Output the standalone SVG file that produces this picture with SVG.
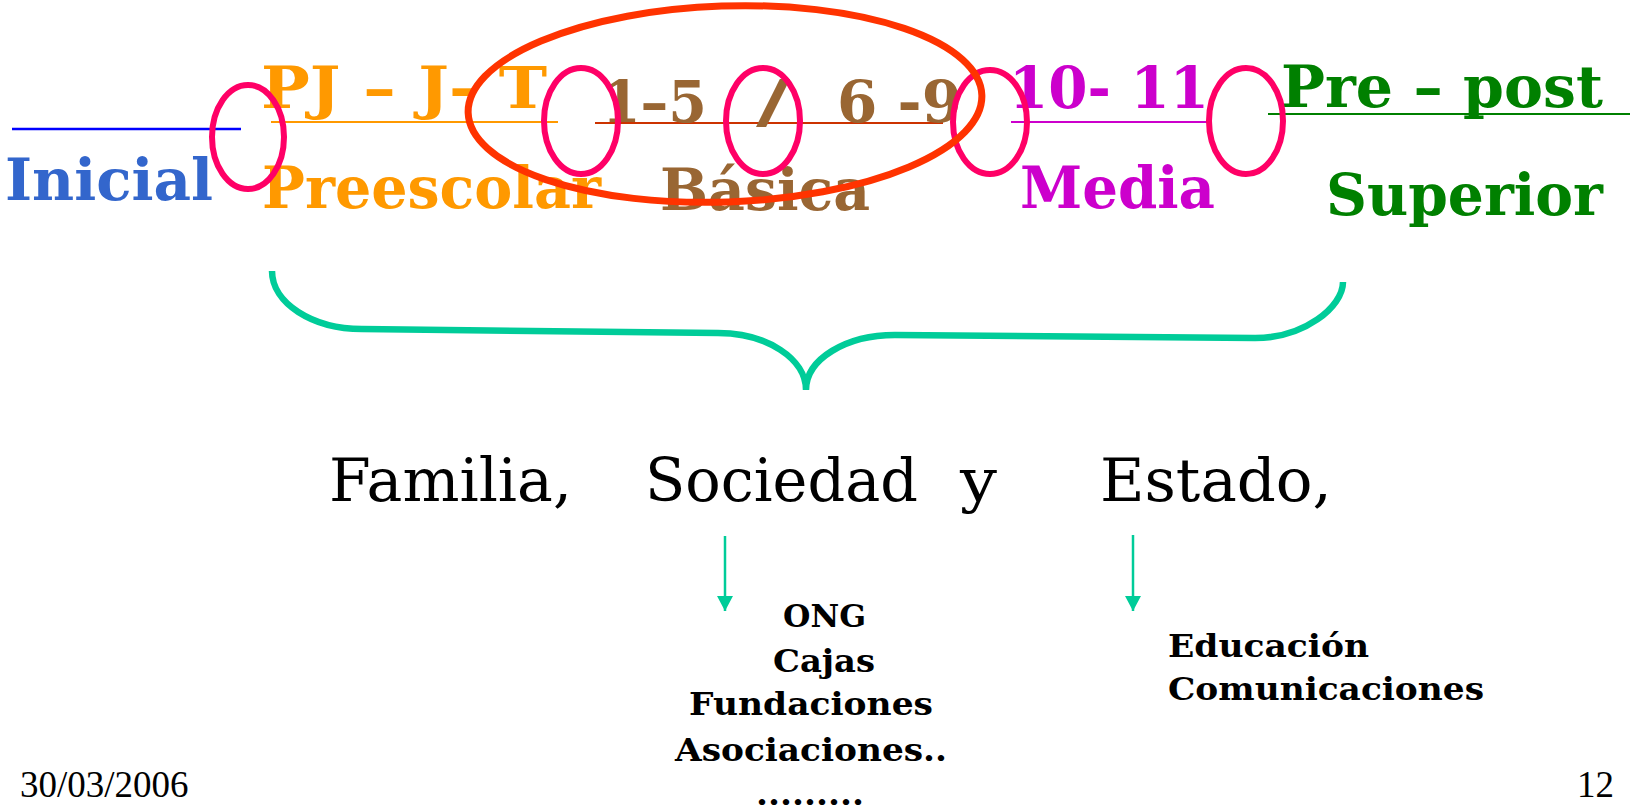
<svg xmlns="http://www.w3.org/2000/svg" width="1630" height="812" viewBox="0 0 1630 812">
<style>
.big{font-family:"DejaVu Serif","Liberation Serif",serif;font-weight:bold;font-size:58px}
.mid{font-family:"DejaVu Serif","Liberation Serif",serif;font-weight:normal;font-size:60px;fill:#000}
.sm{font-family:"DejaVu Serif","Liberation Serif",serif;font-weight:bold;font-size:32px;fill:#000}
.foot{font-family:"Liberation Serif","Times New Roman",serif;font-size:37px;fill:#000}
.ring{fill:none;stroke:#ff0066;stroke-width:6}
.conn{fill:none;stroke:#00cc99;stroke-width:2.5}
</style>
<defs>
<marker id="ah" markerUnits="userSpaceOnUse" markerWidth="18" markerHeight="16" refX="15" refY="8" orient="auto">
<path d="M0,0 L15,8 L0,16 Z" fill="#00cc99"/>
</marker>
</defs>
<rect width="1630" height="812" fill="#fff"/>
<g id="level-lines">
<line x1="12" y1="129" x2="241" y2="129" stroke="#0000ff" stroke-width="2.5"/>
<line x1="271" y1="122" x2="558" y2="122" stroke="#ff9900" stroke-width="2"/>
<line x1="595" y1="123" x2="943" y2="123" stroke="#cc3300" stroke-width="2"/>
<line x1="1011" y1="122" x2="1207" y2="122" stroke="#cc00cc" stroke-width="2"/>
<line x1="1268" y1="114" x2="1630" y2="114" stroke="#008000" stroke-width="2"/>
</g>
<g id="inicial"><text class="big" x="5" y="200" fill="#3366cc" textLength="208" lengthAdjust="spacingAndGlyphs">Inicial</text></g>
<g id="preescolar">
<text class="big" x="261" y="108" fill="#ff9900" textLength="286" lengthAdjust="spacingAndGlyphs">PJ – J- T</text>
<text class="big" x="262" y="208" fill="#ff9900" textLength="339" lengthAdjust="spacingAndGlyphs">Preescolar</text>
</g>
<g id="basica">
<text class="big" x="602" y="122" fill="#996633" textLength="105" lengthAdjust="spacingAndGlyphs">1–5</text>
<text class="big" x="756" y="122" fill="#996633" textLength="34" lengthAdjust="spacingAndGlyphs">/</text>
<text class="big" x="837" y="122" fill="#996633" textLength="125" lengthAdjust="spacingAndGlyphs">6 -9</text>
<text class="big" x="660" y="210" fill="#996633" textLength="210" lengthAdjust="spacingAndGlyphs">Básica</text>
</g>
<g id="media">
<text class="big" x="1009" y="108" fill="#cc00cc" textLength="200" lengthAdjust="spacingAndGlyphs">10- 11</text>
<text class="big" x="1020" y="208" fill="#cc00cc" textLength="195" lengthAdjust="spacingAndGlyphs">Media</text>
</g>
<g id="superior">
<text class="big" x="1281" y="107" fill="#008000" textLength="322" lengthAdjust="spacingAndGlyphs">Pre – post</text>
<text class="big" x="1326" y="215" fill="#008000" textLength="277" lengthAdjust="spacingAndGlyphs">Superior</text>
</g>
<g id="transition-rings">
<ellipse class="ring" cx="248" cy="137" rx="36" ry="52"/>
<ellipse class="ring" cx="581" cy="121" rx="37" ry="53"/>
<ellipse class="ring" cx="763" cy="121" rx="37" ry="53"/>
<ellipse class="ring" cx="990" cy="122" rx="37" ry="52"/>
<ellipse class="ring" cx="1246" cy="121" rx="37" ry="53"/>
</g>
<g id="basica-highlight">
<ellipse cx="725" cy="104" rx="257" ry="98" fill="none" stroke="#ff3300" stroke-width="7" transform="rotate(-2 725 104)"/>
</g>
<g id="brace">
<path d="M272,271 C272,303 312,329 362,329 L718,333 C767,333 806,359 806,390 C806,359 846,335 895,335 L1255,338 C1304,338 1343,307 1343,282" fill="none" stroke="#00cc99" stroke-width="6.5"/>
</g>
<g id="responsables">
<text class="mid" x="329" y="501" textLength="243" lengthAdjust="spacingAndGlyphs">Familia,</text>
<text class="mid" x="645" y="501" textLength="273" lengthAdjust="spacingAndGlyphs">Sociedad</text>
<text class="mid" x="960" y="501" textLength="37" lengthAdjust="spacingAndGlyphs">y</text>
<text class="mid" x="1100" y="501" textLength="232" lengthAdjust="spacingAndGlyphs">Estado,</text>
</g>
<g id="connectors">
<line class="conn" x1="725" y1="536" x2="725" y2="611" marker-end="url(#ah)"/>
<line class="conn" x1="1133" y1="535" x2="1133" y2="611" marker-end="url(#ah)"/>
</g>
<g id="sociedad-list">
<text class="sm" x="783" y="627" textLength="83" lengthAdjust="spacingAndGlyphs">ONG</text>
<text class="sm" x="773" y="672" textLength="102" lengthAdjust="spacingAndGlyphs">Cajas</text>
<text class="sm" x="689" y="715" textLength="244" lengthAdjust="spacingAndGlyphs">Fundaciones</text>
<text class="sm" x="675" y="761" textLength="272" lengthAdjust="spacingAndGlyphs">Asociaciones..</text>
<text class="sm" x="756" y="805" textLength="108" lengthAdjust="spacingAndGlyphs">.........</text>
</g>
<g id="estado-list">
<text class="sm" x="1168" y="657" textLength="201" lengthAdjust="spacingAndGlyphs">Educación</text>
<text class="sm" x="1168" y="700" textLength="316" lengthAdjust="spacingAndGlyphs">Comunicaciones</text>
</g>
<g id="footer">
<text class="foot" x="20" y="797">30/03/2006</text>
<text class="foot" x="1577" y="797">12</text>
</g>
</svg>
